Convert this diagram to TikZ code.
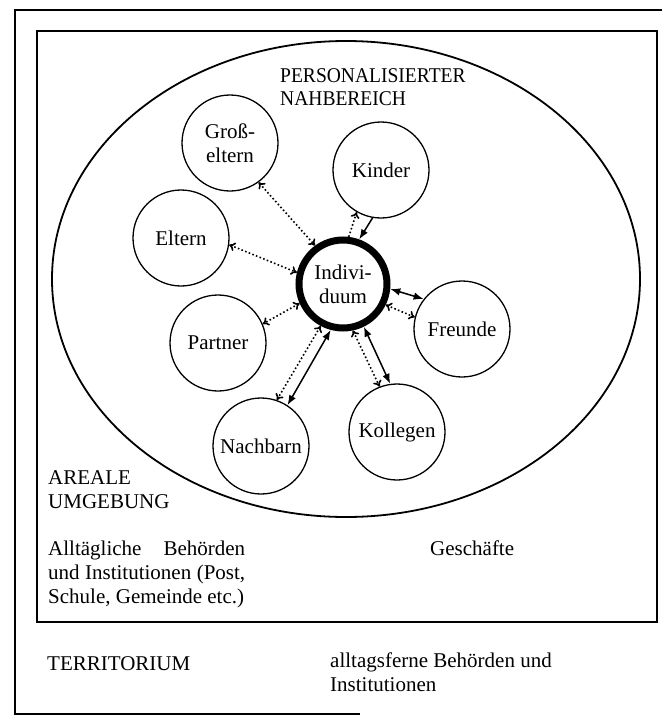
\documentclass[tikz,border=0pt]{standalone}
\usepackage{fontspec}
\setmainfont{Liberation Serif}
\newfontfamily\narrowserif{Liberation Serif}[FakeStretch=0.93]
\usetikzlibrary{arrows.meta}
\tikzset{
  dottip/.tip={To[length=6pt,width=9pt]},
  solidtip/.tip={Latex[length=10pt,width=7.5pt]}
}
\begin{document}
\begin{tikzpicture}[x=1pt,y=-1pt,
  every node/.style={font=\fontsize{21}{24}\selectfont},
  frame/.style={line width=1.8pt},
  pers/.style={circle,draw,line width=1.3pt,minimum size=96pt,inner sep=0pt,align=center},
  ich/.style={circle,draw,line width=7pt,minimum size=88pt,inner sep=0pt,align=center},
  dotline/.style={line width=1.6pt,dash pattern=on 1.6pt off 2.3pt},
  dotlink/.style={dotline,dottip-dottip},
  solidlink/.style={line width=1.5pt,solidtip-solidtip},
  lbl/.style={anchor=base west,align=left,inner sep=0pt}]
\useasboundingbox (0,0) rectangle (662,718);
% frames
\draw[frame] (662,10) -- (15,10) -- (15,714) -- (360,714);
\draw[frame] (37,31) rectangle (657,622);
\draw[frame] (346,279) ellipse [x radius=294pt, y radius=238pt];
% persons
\node[ich]  (ind)      at (343,284) {Indivi-\\duum};
\node[pers] (gross)    at (230,143) {Groß-\\eltern};
\node[pers] (kinder)   at (381,170) {Kinder};
\node[pers] (eltern)   at (181,238) {Eltern};
\node[pers] (partner)  at (218,343) {Partner};
\node[pers] (freunde)  at (462,329) {Freunde};
\node[pers] (nachbarn) at (261,446) {Nachbarn};
\node[pers] (kollegen) at (397,432) {Kollegen};
% connectors
\draw[dotlink] (gross.-54) -- (ind.126);
\draw[dotlink] (eltern.-8) -- (ind.166);
\draw[dotline,-dottip] (ind.83) -- (kinder.-120);
\draw[line width=1.5pt,-solidtip] (kinder.-100) -- (ind.70);
\draw[solidlink] (ind.-6) -- (freunde.142);
\draw[dotlink] (ind.-26) -- (freunde.166);
\draw[dotlink] (ind.204) -- (partner.23);
\draw[dotlink] (ind.-118) -- (nachbarn.71);
\draw[solidlink] (ind.-105) -- (nachbarn.57);
\draw[dotlink] (ind.-78) -- (kollegen.111);
\draw[solidlink] (ind.-64) -- (kollegen.98);
% labels (base = baseline of the last line)
\node[lbl,font=\narrowserif\fontsize{21}{23}\selectfont] (nahbereich) at (280,105) {PERSONALISIERTER\\NAHBEREICH};
\node[lbl] (areal) at (48,508) {AREALE\\UMGEBUNG};
\node[lbl] (alltag) at (48,603) {\makebox[197pt][s]{Alltägliche\hfill Behörden}\\\makebox[197pt][s]{und Institutionen (Post,}\\Schule, Gemeinde etc.)};
\node[lbl] (geschaefte) at (430,555) {Geschäfte};
\node[lbl] (territorium) at (47,670) {TERRITORIUM};
\node[lbl] (fern) at (330,691) {alltagsferne Behörden und\\Institutionen};
\end{tikzpicture}
\end{document}
